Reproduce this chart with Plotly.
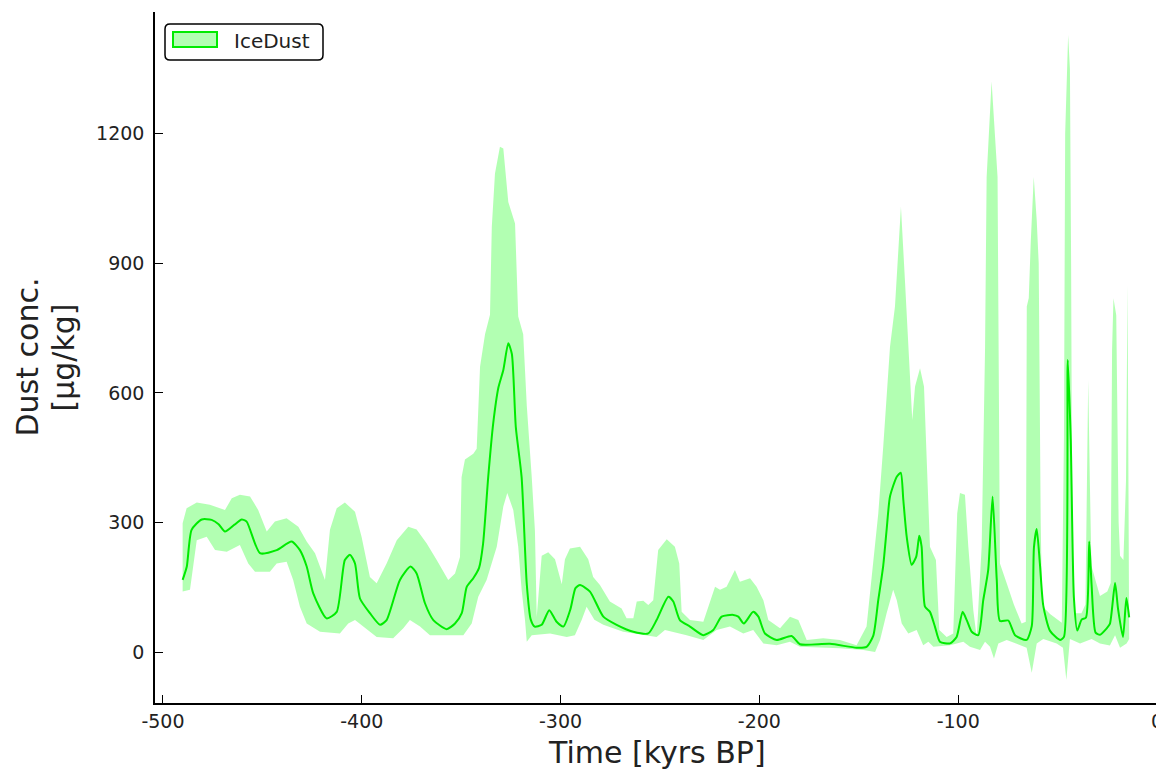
import plotly.graph_objects as go

# ---- data ----
mean_x = [-490.1, -488.0, -485.6, -480.5, -475.5, -472.0, -468.8, -464.0, -460.4, -457.9,
          -451.2, -442.8, -435.3, -431.1, -427.7, -424.4, -417.7, -412.6, -408.5, -405.9,
          -403.4, -400.9, -395.9, -390.8, -387.5, -380.8, -375.5, -372.4, -368.2, -364.0,
          -357.3, -353.1, -349.7, -347.2, -343.9, -341.0, -339.0, -336.4, -333.9, -331.3,
          -328.8, -326.3, -324.5, -322.5, -319.6, -317.0, -315.0, -313.0, -309.5, -305.7,
          -302.0, -298.6, -295.0, -292.5, -290.2, -285.2, -278.5, -271.8, -263.4, -255.9,
          -251.7, -245.8, -243.3, -240.0, -234.9, -228.2, -223.2, -219.0, -213.1, -210.6,
          -207.8, -203.1, -200.5, -197.2, -191.3, -183.8, -179.6, -164.5, -151.1, -146.1,
          -142.7, -140.2, -137.7, -136.0, -134.3, -130.9, -128.9, -127.6, -125.9, -123.4,
          -121.1, -119.6, -118.4, -116.7, -114.2, -111.7, -109.2, -104.1, -100.8, -97.8,
          -95.7, -93.2, -89.9, -87.4, -84.9, -82.7, -80.6, -79.0, -74.8, -71.4,
          -65.6, -63.0, -61.9, -60.5, -58.9, -57.2, -53.8, -48.8, -46.8, -44.9,
          -43.4, -41.8, -40.1, -37.9, -35.7, -34.1, -32.9, -30.9, -28.7, -25.3,
          -23.7, -21.1, -19.6, -17.1, -15.4, -14.0]
mean_y = [167, 198, 283, 307, 306, 296, 279, 295, 307, 302,
          229, 236, 256, 236, 198, 136, 78, 93, 213, 225,
          205, 124, 90, 63, 74, 167, 198, 182, 113, 74,
          53, 66, 90, 151, 171, 195, 250, 405, 529, 612,
          653, 715, 690, 520, 405, 157, 75, 59, 63, 97,
          70, 59, 100, 148, 155, 140, 82, 63, 47, 43,
          74, 128, 117, 74, 59, 39, 51, 82, 86, 82,
          66, 93, 82, 43, 28, 37, 18, 19, 10, 12,
          38, 120, 200, 283, 360, 406, 415, 352, 267, 202,
          221, 269, 244, 105, 93, 59, 24, 20, 35, 93,
          74, 47, 39, 120, 190, 360, 167, 72, 73, 39,
          28, 60, 242, 285, 204, 107, 49, 28, 35, 676,
          493, 126, 50, 75, 80, 256, 155, 45, 40, 55,
          65, 160, 100, 35, 125, 80]

upper_x = [-490.1, -488.1, -483.0, -476.4, -468.8, -465.4, -461.3, -456.2, -452.1, -447.8,
           -443.7, -437.8, -431.9, -427.7, -423.5, -418.5, -416.0, -412.6, -408.5, -403.4,
           -400.1, -395.9, -392.5, -387.5, -382.4, -376.6, -372.4, -367.4, -362.3, -356.5,
           -353.1, -350.6, -349.8, -348.1, -343.9, -342.2, -340.5, -338.0, -335.5, -334.6,
           -333.0, -330.5, -328.8, -326.3, -322.9, -321.3, -318.8, -317.0, -314.5, -312.9,
           -312.0, -309.5, -306.2, -302.8, -299.4, -297.8, -295.3, -290.2, -286.1, -283.6,
           -280.2, -275.2, -269.3, -266.8, -263.4, -261.7, -258.4, -255.9, -253.4, -250.9,
           -246.6, -242.5, -240.3, -239.1, -234.9, -228.2, -222.3, -219.8, -216.5, -212.3,
           -209.8, -204.7, -201.4, -198.0, -195.5, -189.6, -184.6, -180.4, -176.2, -167.9,
           -159.5, -151.1, -146.1, -143.5, -140.2, -137.7, -134.3, -131.8, -128.8, -126.8,
           -124.2, -123.1, -121.7, -119.2, -117.2, -115.8, -114.2, -111.2, -109.5, -105.8,
           -102.5, -100.5, -99.1, -96.6, -94.9, -92.4, -90.7, -88.2, -86.5, -85.7,
           -83.2, -80.2, -79.5, -79.0, -75.6, -72.0, -68.1, -66.0, -65.5, -64.5,
           -63.5, -62.0, -60.5, -59.5, -58.5, -57.8, -53.8, -47.9, -46.8, -46.2,
           -44.7, -43.8, -43.2, -42.6, -41.5, -38.0, -36.0, -35.2, -34.6, -33.8,
           -33.0, -28.7, -25.0, -23.3, -22.6, -21.9, -20.5, -19.3, -18.6, -16.9,
           -15.6, -14.8, -14.0]
upper_y = [298, 333, 346, 341, 329, 356, 364, 360, 329, 279,
           302, 310, 290, 256, 229, 167, 283, 333, 346, 325,
           267, 174, 159, 205, 259, 290, 284, 252, 213, 167,
           182, 220, 405, 446, 459, 471, 661, 736, 781, 984,
           1108, 1170, 1166, 1042, 992, 777, 736, 571, 405, 281,
           82, 223, 231, 215, 157, 215, 240, 244, 215, 174,
           155, 117, 101, 78, 78, 117, 119, 109, 120, 236,
           261, 244, 205, 93, 74, 70, 151, 144, 151, 190,
           163, 171, 151, 120, 74, 55, 82, 74, 28, 32,
           28, 16, 59, 170, 321, 476, 707, 800, 1031, 862,
           630, 537, 615, 657, 615, 437, 244, 213, 51, 35,
           43, 321, 368, 364, 244, 97, 35, 244, 700, 1100,
           1321, 1100, 700, 205, 159, 110, 66, 70, 800, 820,
           950, 1100, 1000, 900, 300, 107, 88, 68, 500, 1200,
           1429, 1350, 900, 200, 90, 90, 110, 400, 630, 400,
           200, 130, 140, 160, 700, 819, 780, 300, 223, 213,
           396, 850, 126]

lower_x = [-490.1, -486.4, -483.0, -478.0, -473.8, -467.9, -461.3, -457.1, -453.7, -446.2,
           -442.8, -437.8, -434.5, -431.1, -427.7, -421.0, -411.0, -406.8, -403.4, -399.2,
           -392.5, -384.2, -379.1, -375.8, -370.7, -365.7, -355.6, -348.9, -344.7, -341.4,
           -337.2, -332.1, -328.8, -326.8, -323.8, -321.3, -319.6, -317.9, -317.0, -314.5,
           -305.3, -296.9, -292.8, -289.4, -286.9, -283.0, -278.5, -268.5, -251.7, -247.5,
           -243.3, -236.6, -228.2, -221.5, -214.8, -208.1, -203.1, -198.0, -191.3, -184.6,
           -179.6, -159.5, -147.7, -141.8, -139.3, -136.0, -132.7, -130.9, -128.4, -125.1,
           -120.9, -117.6, -115.0, -112.5, -104.1, -97.4, -94.1, -89.0, -86.5, -84.0,
           -82.0, -79.8, -75.6, -74.0, -65.6, -63.0, -60.5, -57.2, -50.5, -47.3,
           -45.6, -43.8, -38.7, -32.9, -28.7, -23.7, -21.1, -18.6, -15.3, -14.0]
lower_y = [140, 144, 259, 267, 236, 232, 248, 205, 186, 186,
           205, 209, 167, 105, 66, 47, 43, 66, 74, 59,
           35, 32, 55, 74, 59, 39, 39, 39, 66, 128,
           167, 244, 337, 368, 329, 244, 144, 74, 24, 39,
           43, 35, 39, 74, 105, 75, 63, 47, 35, 51,
           47, 39, 28, 51, 59, 43, 51, 20, 16, 24,
           12, 9, 5, 0, 28, 90, 144, 120, 66, 43,
           51, 16, 24, 12, 16, 24, 12, 5, 24, 12,
           -15, 20, 28, 25, 10, -48, 20, 30, 20, 10,
           -65, 30, 20, 30, 20, 15, 39, 10, 20, 30]

x_ticks = [-500, -400, -300, -200, -100, 0]
x_tick_labels = ["-500", "-400", "-300", "-200", "-100", "0"]
y_ticks = [0, 300, 600, 900, 1200]
y_tick_labels = ["0", "300", "600", "900", "1200"]
series_name = "IceDust"

LINE = "rgb(0,235,0)"
FILL = "rgba(0,255,0,0.3)"
FONT = "DejaVu Sans"
TXT = "#222222"

# The page body has an 8px margin; the figure is offset by it, so the margins are
# reduced to keep the plot area where the reference has it (window px 155..1158, 12..703).
OFF = 8
W, H = 1162, 772 - OFF
L, T, B = 155 - OFF, 12 - OFF, 69
PW = 1003
R = W - L - PW
PH = H - T - B


def px_x(p):
    # window pixel -> paper x
    return (p - OFF - L) / PW


def px_y(p):
    # window pixel -> paper y
    return 1 - (p - OFF - T) / PH


band_x = upper_x + lower_x[::-1]
band_y = upper_y + lower_y[::-1]

fig = go.Figure()
fig.add_trace(go.Scatter(x=band_x, y=band_y, fill="toself", fillcolor=FILL,
                         mode="lines", line=dict(width=0, color=FILL),
                         hoverinfo="skip", showlegend=False, name=series_name))
fig.add_trace(go.Scatter(x=mean_x, y=mean_y, mode="lines",
                         line=dict(color=LINE, width=2, shape="spline", smoothing=0.6),
                         showlegend=False, name=series_name))

axis_common = dict(showgrid=False, zeroline=False, showline=True, linecolor="black",
                   linewidth=1.5, ticks="inside", ticklen=8, tickwidth=1.2,
                   tickcolor="black", automargin=False,
                   tickfont=dict(family=FONT, size=19, color=TXT))


def rounded_rect(x0, y0, x1, y1, r):
    rx, ry = r / PW, r / PH
    a0, a1 = px_x(x0), px_x(x1)
    b0, b1 = px_y(y0), px_y(y1)  # b0 top, b1 bottom
    return (f"M {a0 + rx} {b0} L {a1 - rx} {b0} Q {a1} {b0} {a1} {b0 - ry} "
            f"L {a1} {b1 + ry} Q {a1} {b1} {a1 - rx} {b1} "
            f"L {a0 + rx} {b1} Q {a0} {b1} {a0} {b1 + ry} "
            f"L {a0} {b0 - ry} Q {a0} {b0} {a0 + rx} {b0} Z")


shapes = [
    dict(type="path", xref="paper", yref="paper", path=rounded_rect(165, 24, 323, 60, 5),
         fillcolor="white", line=dict(color="black", width=1.5), layer="above"),
    dict(type="rect", xref="paper", yref="paper",
         x0=px_x(173), x1=px_x(217), y0=px_y(47), y1=px_y(32),
         fillcolor="rgb(178,255,178)", line=dict(color=LINE, width=2), layer="above"),
]

annotations = [
    dict(text=series_name, xref="paper", yref="paper", x=px_x(232), y=px_y(41),
         xanchor="left", yanchor="middle", showarrow=False,
         font=dict(family=FONT, size=20, color=TXT)),
    dict(text="Time [kyrs BP]", xref="paper", yref="paper", x=0.5, y=px_y(752),
         xanchor="center", yanchor="middle", showarrow=False,
         font=dict(family=FONT, size=30, color=TXT)),
    dict(text="Dust conc.", xref="paper", yref="paper", x=px_x(27), y=0.5,
         xanchor="center", yanchor="middle", textangle=-90, showarrow=False,
         font=dict(family=FONT, size=30, color=TXT)),
    dict(text="[µg/kg]", xref="paper", yref="paper", x=px_x(63), y=0.5,
         xanchor="center", yanchor="middle", textangle=-90, showarrow=False,
         font=dict(family=FONT, size=30, color=TXT)),
]

fig.update_layout(
    width=W, height=H,
    margin=dict(l=L, r=R, t=T, b=B),
    paper_bgcolor="white", plot_bgcolor="white",
    font=dict(family=FONT, color=TXT),
    xaxis=dict(range=[-504, 0.5], tickvals=x_ticks, ticktext=x_tick_labels, **axis_common),
    yaxis=dict(range=[-118, 1482], tickvals=y_ticks, ticktext=y_tick_labels,
               ticklabelstandoff=5, **axis_common),
    showlegend=False,
    shapes=shapes,
    annotations=annotations,
)

fig.write_html("out.html")
